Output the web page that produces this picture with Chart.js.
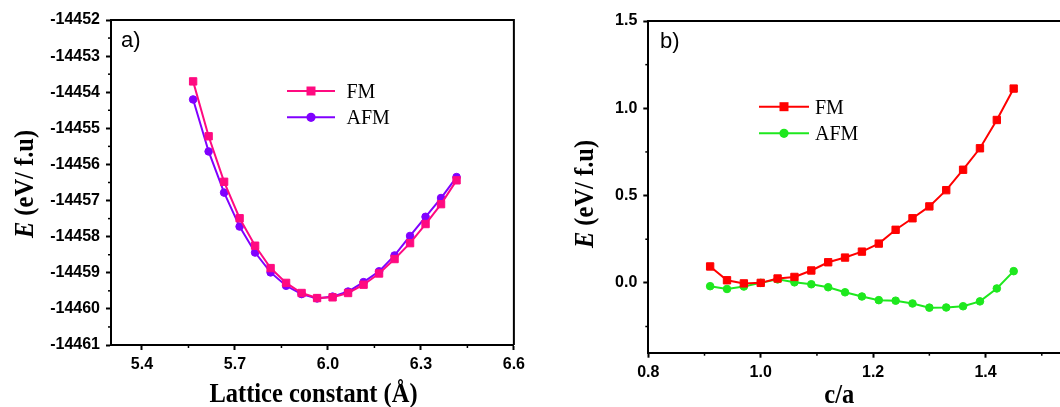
<!DOCTYPE html>
<html>
<head>
<meta charset="utf-8">
<script src="https://cdn.jsdelivr.net/npm/chart.js@4"></script>
<style>
  body { margin: 0; background: #fff; overflow: hidden; }
  .wrap { position: absolute; top: 0; height: 407px; overflow: hidden; }
</style>
</head>
<body>
<div class="wrap" style="left:0;width:530px"><canvas id="chartA" width="530" height="407"></canvas></div>
<div class="wrap" style="left:530px;width:530px"><canvas id="chartB" width="600" height="407"></canvas></div>
<script>
// panel a) energie vs lattice constant
const latticeA = [5.565, 5.615, 5.665, 5.715, 5.765, 5.815, 5.865, 5.915, 5.965,
                  6.015, 6.065, 6.115, 6.165, 6.215, 6.265, 6.315, 6.365, 6.415];
const fmA = [-14453.70, -14455.22, -14456.48, -14457.49, -14458.25, -14458.87, -14459.28, -14459.56, -14459.70,
             -14459.68, -14459.56, -14459.33, -14459.02, -14458.62, -14458.18, -14457.65, -14457.10, -14456.44];
const afmA = [-14454.20, -14455.64, -14456.78, -14457.72, -14458.44, -14458.99, -14459.36, -14459.59, -14459.71,
              -14459.66, -14459.52, -14459.26, -14458.96, -14458.52, -14457.98, -14457.45, -14456.93, -14456.35];
const xTicksA = [5.4, 5.7, 6.0, 6.3, 6.6];
const xMinorA = [5.55, 5.85, 6.15, 6.45];
const yTicksA = [-14461, -14460, -14459, -14458, -14457, -14456, -14455, -14454, -14453, -14452];
const yMinorA = [-14460.5, -14459.5, -14458.5, -14457.5, -14456.5, -14455.5, -14454.5, -14453.5, -14452.5];

// panel b) energie vs c/a
const ratioB = [0.91, 0.94, 0.97, 1.00, 1.03, 1.06, 1.09, 1.12, 1.15, 1.18,
                1.21, 1.24, 1.27, 1.30, 1.33, 1.36, 1.39, 1.42, 1.45];
const fmB = [0.094, 0.015, -0.003, 0.0, 0.025, 0.034, 0.071, 0.118, 0.145, 0.179,
             0.225, 0.304, 0.370, 0.438, 0.531, 0.648, 0.771, 0.933, 1.113];
const afmB = [-0.019, -0.035, -0.021, 0.0, 0.020, 0.003, -0.008, -0.025, -0.054, -0.078,
              -0.099, -0.102, -0.118, -0.142, -0.141, -0.134, -0.106, -0.032, 0.067];
const xTicksB = [0.8, 1.0, 1.2, 1.4, 1.6];
const xMinorB = [0.9, 1.1, 1.3, 1.5];
const yTicksB = [0.0, 0.5, 1.0, 1.5];
const yMinorB = [-0.25, 0.25, 0.75, 1.25];

const TICK_FONT = { family: "'Liberation Sans', Arial, sans-serif", size: 16, weight: "bold" };
const SERIF = "'Liberation Serif', 'Times New Roman', serif";

function toPts(xs, ys) {
  return xs.map((x, i) => ({ x: x, y: ys[i] }));
}

function dataset(label, xs, ys, color, style) {
  return {
    label: label,
    data: toPts(xs, ys),
    borderColor: color,
    backgroundColor: color,
    borderWidth: 2,
    pointStyle: style,
    pointRadius: style === "rect" ? 5.2 : 3.8,
    pointBorderWidth: 1,
    tension: 0
  };
}

// kotak, minor tick, judul sumbu, legenda — semua digambar manual
const decorPlugin = {
  id: "decor",
  afterDraw(chart) {
    const ctx = chart.ctx;
    const area = chart.chartArea;
    const d = chart.options.plugins.decor;
    ctx.save();
    ctx.strokeStyle = "#000";
    ctx.lineWidth = 2;
    ctx.beginPath();
    ctx.moveTo(area.left, area.top);
    ctx.lineTo(area.right, area.top);
    ctx.lineTo(area.right, area.bottom);
    ctx.stroke();

    // minor ticks
    ctx.lineWidth = 1.5;
    const xs = chart.scales.x, ys = chart.scales.y;
    d.xMinor.forEach(v => {
      const px = xs.getPixelForValue(v);
      ctx.beginPath(); ctx.moveTo(px, area.bottom); ctx.lineTo(px, area.bottom + 3); ctx.stroke();
    });
    d.yMinor.forEach(v => {
      const py = ys.getPixelForValue(v);
      ctx.beginPath(); ctx.moveTo(area.left, py); ctx.lineTo(area.left - 3, py); ctx.stroke();
    });

    // panel label
    ctx.fillStyle = "#000";
    ctx.font = "22px 'Liberation Sans', Arial, sans-serif";
    ctx.textBaseline = "middle";
    ctx.textAlign = "left";
    ctx.fillText(d.panel, d.panelX, d.panelY);

    // x title
    ctx.save();
    ctx.translate(d.xTitleX, d.xTitleY);
    ctx.scale(1, 1.12);
    ctx.font = "bold 24.5px " + SERIF;
    ctx.textAlign = "center";
    ctx.textBaseline = "alphabetic";
    ctx.fillText(d.xTitle, 0, 0);
    ctx.restore();

    // y title: E miring + sisanya tebal
    ctx.save();
    ctx.translate(d.yTitleX, d.yTitleY);
    ctx.rotate(-Math.PI / 2);
    ctx.scale(1, 1.12);
    ctx.textBaseline = "alphabetic";
    ctx.textAlign = "left";
    const fE = "italic bold 24.5px " + SERIF, fR = "bold 24.5px " + SERIF;
    ctx.font = fE;
    const wE = ctx.measureText("E").width;
    ctx.font = fR;
    const rest = " (eV/ f.u)";
    const wR = ctx.measureText(rest).width;
    const x0 = -(wE + wR) / 2;
    ctx.font = fE;
    ctx.fillText("E", x0, 0);
    ctx.font = fR;
    ctx.fillText(rest, x0 + wE, 0);
    ctx.restore();

    // legend
    const leg = d.legend;
    chart.data.datasets.forEach((ds, i) => {
      const y = leg.y[i];
      ctx.strokeStyle = ds.borderColor;
      ctx.fillStyle = ds.borderColor;
      ctx.lineWidth = 2;
      ctx.beginPath(); ctx.moveTo(leg.x1, y); ctx.lineTo(leg.x2, y); ctx.stroke();
      const mx = (leg.x1 + leg.x2) / 2;
      ctx.beginPath();
      if (ds.pointStyle === "rect") ctx.rect(mx - 4.5, y - 4.5, 9, 9);
      else ctx.arc(mx, y, 4.6, 0, Math.PI * 2);
      ctx.fill();
      ctx.fillStyle = "#000";
      ctx.font = "20px " + SERIF;
      ctx.textAlign = "left";
      ctx.textBaseline = "alphabetic";
      ctx.fillText(ds.label, leg.tx, y + 6.8);
    });
    ctx.restore();
  }
};

function axis(min, max, ticks, fmt, fit, pad) {
  return {
    type: "linear",
    min: min,
    max: max,
    afterBuildTicks: s => { s.ticks = ticks.map(v => ({ value: v })); },
    afterFit: fit,
    border: { display: true, color: "#000", width: 2 },
    grid: { display: true, drawOnChartArea: false, drawTicks: true, tickLength: 5, tickWidth: 2, tickColor: "#000" },
    ticks: { color: "#000", font: TICK_FONT, padding: pad, autoSkip: false, maxRotation: 0, callback: fmt }
  };
}

function makeChart(id, datasets, scales, padding, decor) {
  const ctx = document.getElementById(id).getContext("2d");
  return new Chart(ctx, {
    type: "line",
    data: { datasets: datasets },
    options: {
      responsive: false,
      animation: false,
      devicePixelRatio: 1,
      layout: { padding: padding },
      plugins: { legend: { display: false }, tooltip: { enabled: false }, decor: decor },
      scales: scales
    },
    plugins: [decorPlugin]
  });
}

document.addEventListener("DOMContentLoaded", () => {
  makeChart("chartA",
    [dataset("FM", latticeA, fmA, "#ff0a80", "rect"), dataset("AFM", latticeA, afmA, "#8000ff", "circle")],
    {
      x: axis(5.3, 6.6, xTicksA, v => v.toFixed(1), s => { s.height = 62; }, 5),
      y: axis(-14461, -14452, yTicksA, v => String(v), s => { s.width = 111; }, 6)
    },
    { left: 0, top: 20, right: 15.6, bottom: 0 },
    {
      xMinor: xMinorA, yMinor: yMinorA,
      panel: "a)", panelX: 121, panelY: 41,
      xTitle: "Lattice constant (\u00C5)", xTitleX: 313.5, xTitleY: 401.5,
      yTitleX: 33, yTitleY: 184,
      legend: { x1: 287, x2: 335, tx: 346.5, y: [91, 117.3] }
    });

  makeChart("chartB",
    [dataset("FM", ratioB, fmB, "#ff0000", "rect"), dataset("AFM", ratioB, afmB, "#1ee81e", "circle")],
    {
      x: axis(0.8, 1.6, xTicksB, v => v.toFixed(1), s => { s.height = 54.3; }, 5),
      y: axis(-0.4, 1.5, yTicksB, v => v.toFixed(1), s => { s.width = 118.3; }, 6)
    },
    { left: 0, top: 21, right: 32, bottom: 0 },
    {
      xMinor: xMinorB, yMinor: yMinorB,
      panel: "b)", panelX: 130, panelY: 41.7,
      xTitle: "c/a", xTitleX: 309.3, xTitleY: 402.5,
      yTitleX: 63, yTitleY: 194,
      legend: { x1: 229, x2: 279, tx: 285, y: [106.7, 133.3] }
    });
});
</script>
</body>
</html>
